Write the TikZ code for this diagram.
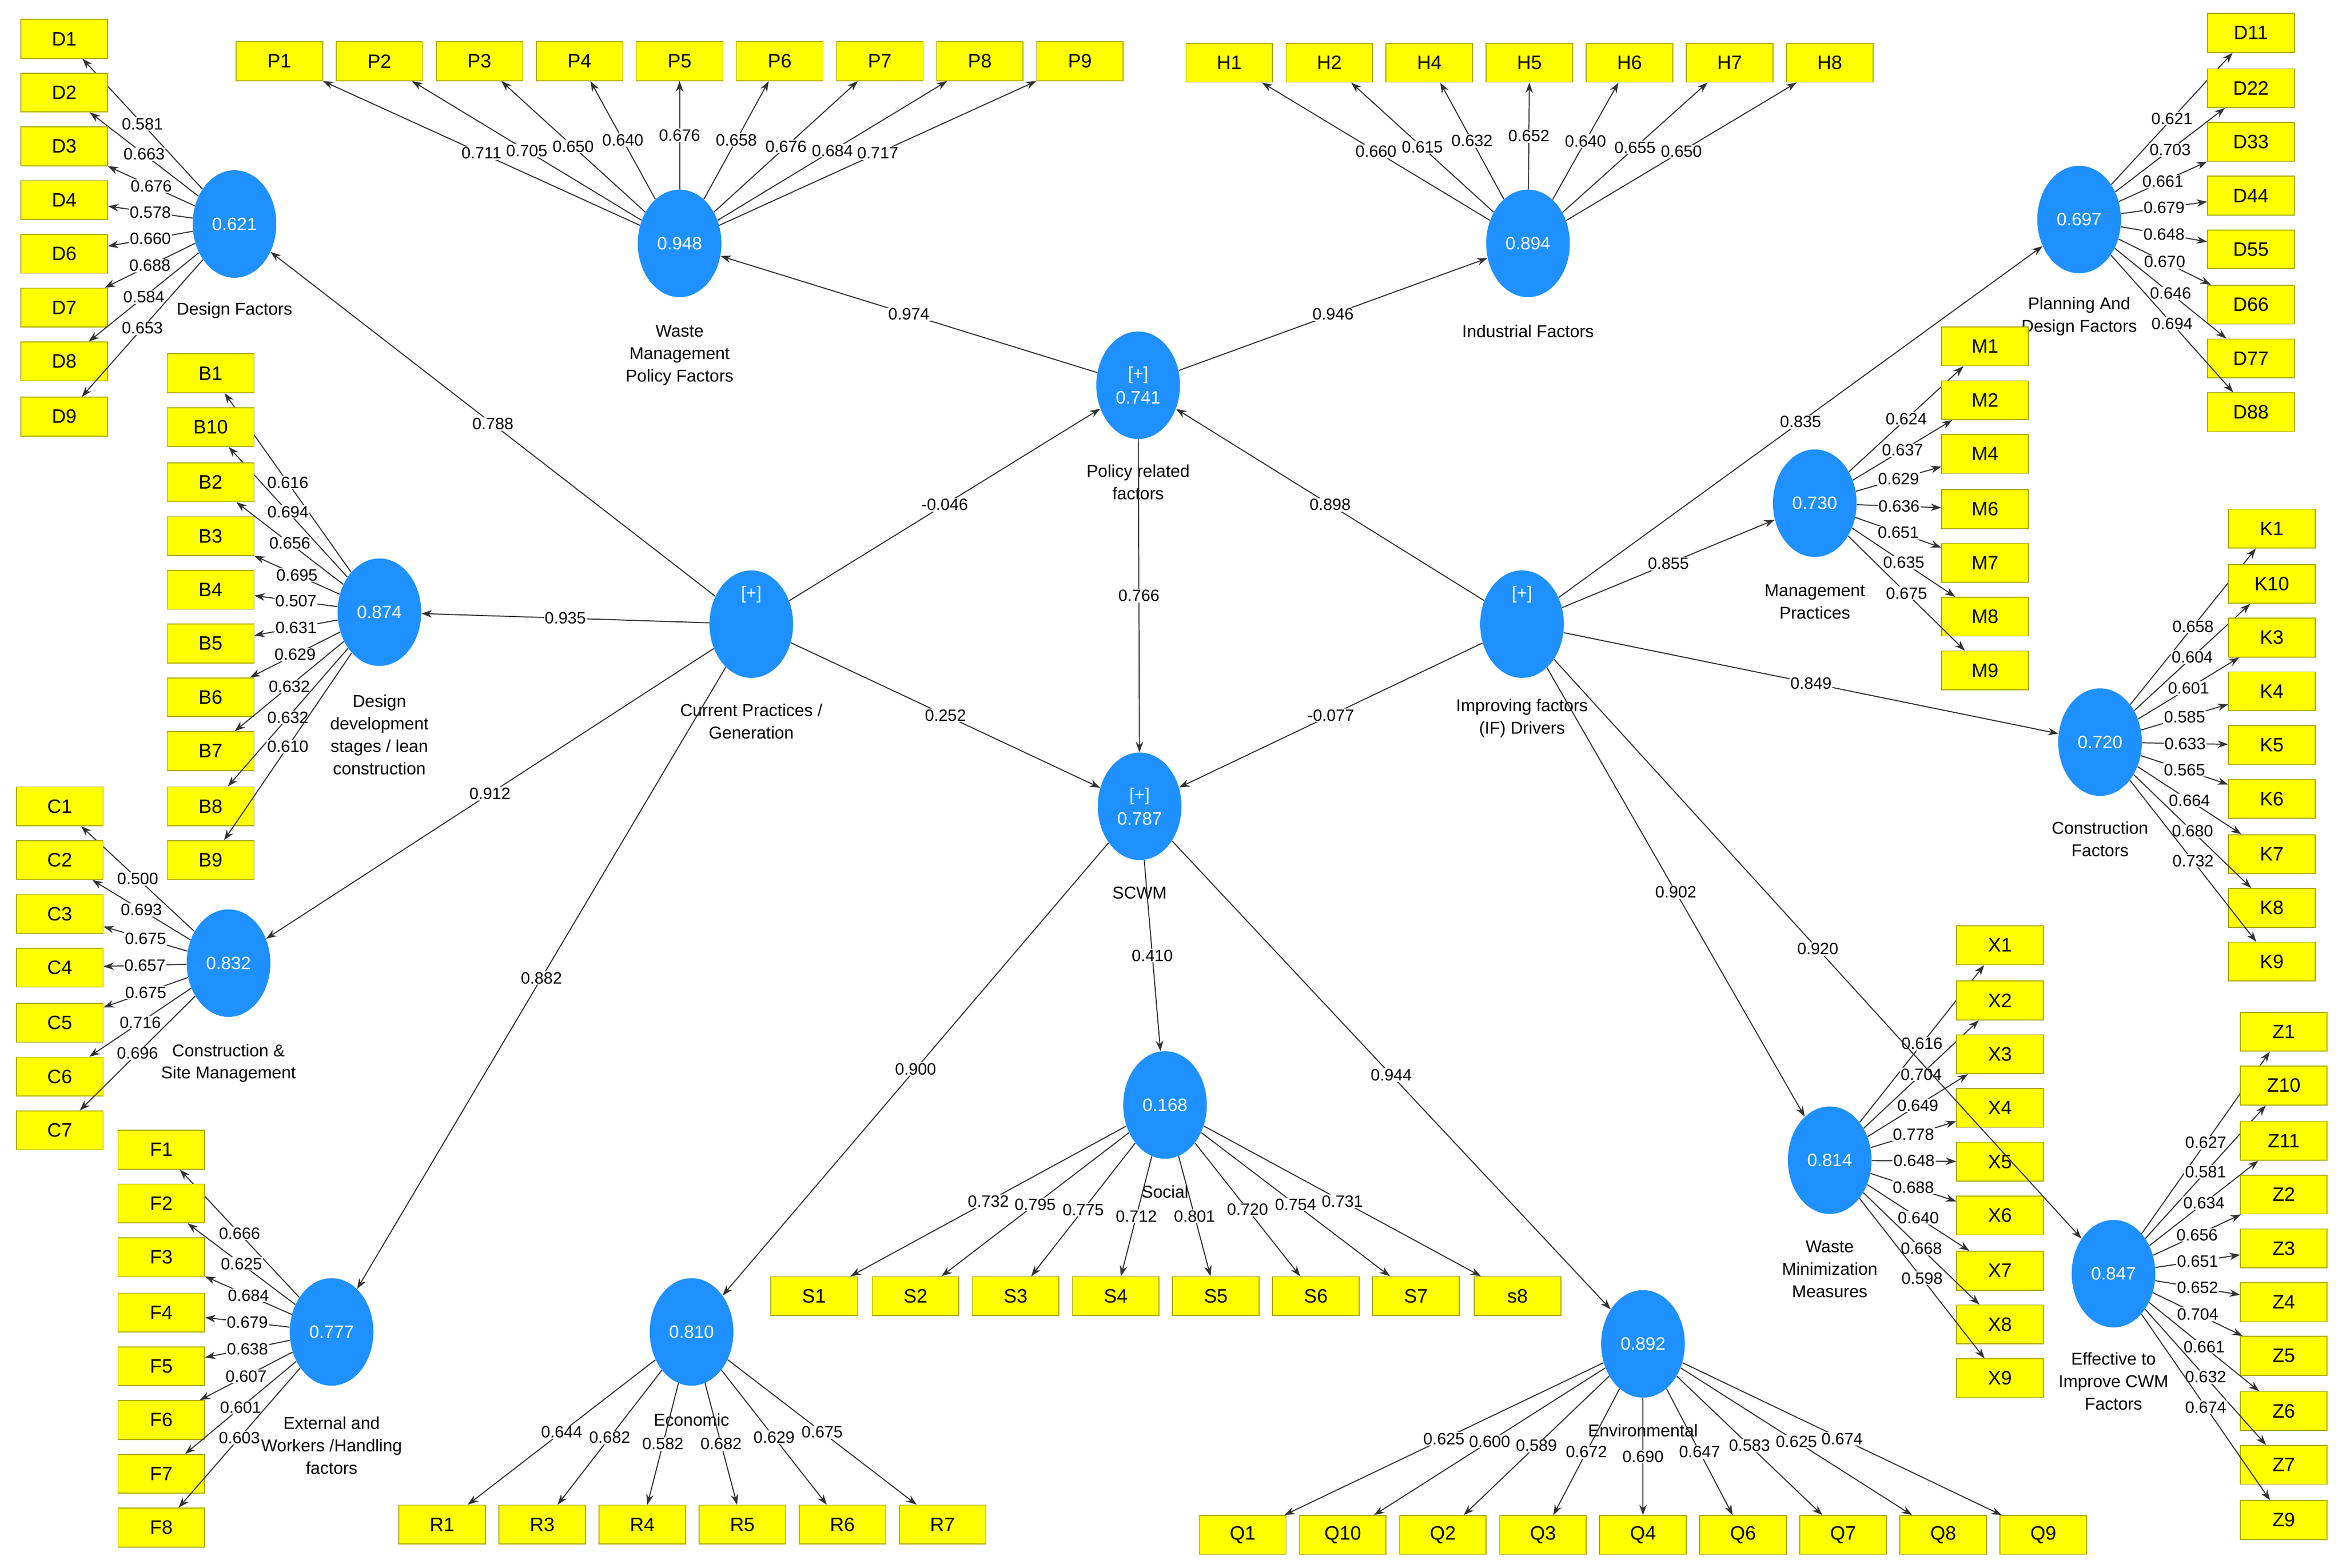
\documentclass[tikz,border=0pt]{standalone}
\usepackage{fontspec}
\setmainfont{Liberation Sans}
\usetikzlibrary{shapes.geometric,arrows.meta}
\definecolor{cblue}{RGB}{30,144,255}
\definecolor{cyel}{RGB}{255,255,0}
\definecolor{cyb}{RGB}{170,170,0}
\begin{document}
\begin{tikzpicture}[x=1pt,y=-1pt,
 lv/.style={ellipse,fill=cblue,minimum width=56pt,minimum height=72pt,inner sep=0pt,text=white,font=\fontsize{12}{14}\selectfont,align=center},
 lvcap/.style={align=center,font=\fontsize{11.5}{15}\selectfont},
 box/.style={rectangle,fill=cyel,draw=cyb,line width=0.6pt,minimum width=58pt,minimum height=26pt,inner sep=0pt,font=\fontsize{13}{15}\selectfont},
 arr/.style={draw=black!80,line width=0.7pt,-{Stealth[length=7pt,width=5pt]}},
 lab/.style={fill=white,inner sep=0.6pt,font=\fontsize{11}{13}\selectfont}]
\useasboundingbox (0,0) rectangle (1568,1050);
% latent variables
\node[lv] (DF) at (157,150) {0.621};
\node[lvcap] (DFl) at (157,208) {Design Factors};
\node[lv] (WM) at (455,163) {0.948};
\node[lvcap] (WMl) at (455,238) {Waste\\Management\\Policy Factors};
\node[lv] (IF) at (1023,163) {0.894};
\node[lvcap] (IFl) at (1023,222) {Industrial Factors};
\node[lv] (PD) at (1392,147) {0.697};
\node[lvcap] (PDl) at (1392,212) {Planning And\\Design Factors};
\node[lv] (PR) at (762,258) {[+]\\[2pt]0.741};
\node[lvcap] (PRl) at (762,323) {Policy related\\factors};
\node[lv] (DD) at (254,410) {0.874};
\node[lvcap] (DDl) at (254,492) {Design\\development\\stages / lean\\construction};
\node[lv] (CP) at (503,418) {[+]\\[28pt]};
\node[lvcap] (CPl) at (503,483) {Current Practices /\\Generation};
\node[lv] (IMP) at (1019,418) {[+]\\[28pt]};
\node[lvcap] (IMPl) at (1019,481) {Improving factors\\(IF) Drivers};
\node[lv] (MP) at (1215,337) {0.730};
\node[lvcap] (MPl) at (1215,403) {Management\\Practices};
\node[lv] (CF) at (1406,497) {0.720};
\node[lvcap] (CFl) at (1406,562) {Construction\\Factors};
\node[lv] (SC) at (763,540) {[+]\\[2pt]0.787};
\node[lvcap] (SCl) at (763,598) {SCWM};
\node[lv] (CS) at (153,645) {0.832};
\node[lvcap] (CSl) at (153,712) {Construction \&\\Site Management};
\node[lv] (SO) at (780,740) {0.168};
\node[lvcap] (SOl) at (780,798) {Social};
\node[lv] (WN) at (1225,777) {0.814};
\node[lvcap] (WNl) at (1225,850) {Waste\\Minimization\\Measures};
\node[lv] (EF) at (1415,853) {0.847};
\node[lvcap] (EFl) at (1415,925) {Effective to\\Improve CWM\\Factors};
\node[lv] (EX) at (222,892) {0.777};
\node[lvcap] (EXl) at (222,968) {External and\\Workers /Handling\\factors};
\node[lv] (EC) at (463,892) {0.810};
\node[lvcap] (ECl) at (463,951) {Economic};
\node[lv] (EN) at (1100,900) {0.892};
\node[lvcap] (ENl) at (1100,958) {Environmental};
% indicators
\foreach \n/\y/\v in {D1/26/0.581,D2/62/0.663,D3/98/0.676,D4/134/0.578,D6/170/0.660,D7/206/0.688,D8/242/0.584,D9/279/0.653}
 {\node[box] (\n) at (43,\y) {\n}; \draw[arr] (DF) -- node[lab]{\v} (\n);}
\foreach \n/\x/\v in {P1/187/0.711,P2/254/0.705,P3/321/0.650,P4/388/0.640,P5/455/0.676,P6/522/0.658,P7/589/0.676,P8/656/0.684,P9/723/0.717}
 {\node[box] (\n) at (\x,41) {\n}; \draw[arr] (WM) -- node[lab]{\v} (\n);}
\foreach \n/\x/\v in {H1/823/0.660,H2/890/0.615,H4/957/0.632,H5/1024/0.652,H6/1091/0.640,H7/1158/0.655,H8/1225/0.650}
 {\node[box] (\n) at (\x,42) {\n}; \draw[arr] (IF) -- node[lab]{\v} (\n);}
\foreach \n/\y/\v in {D11/22/0.621,D22/59/0.703,D33/95/0.661,D44/131/0.679,D55/167/0.648,D66/204/0.670,D77/240/0.646,D88/276/0.694}
 {\node[box] (\n) at (1507,\y) {\n}; \draw[arr] (PD) -- node[lab]{\v} (\n);}
\foreach \n/\y/\v in {B1/250/0.616,B10/286/0.694,B2/323/0.656,B3/359/0.695,B4/395/0.507,B5/431/0.631,B6/467/0.629,B7/503/0.632,B8/540/0.632,B9/576/0.610}
 {\node[box] (\n) at (141,\y) {\n}; \draw[arr] (DD) -- node[lab]{\v} (\n);}
\foreach \n/\y/\v in {M1/232/0.624,M2/268/0.637,M4/304/0.629,M6/341/0.636,M7/377/0.651,M8/413/0.635,M9/449/0.675}
 {\node[box] (\n) at (1329,\y) {\n}; \draw[arr] (MP) -- node[lab]{\v} (\n);}
\foreach \n/\y/\v in {K1/354/0.658,K10/391/0.604,K3/427/0.601,K4/463/0.585,K5/499/0.633,K6/535/0.565,K7/572/0.664,K8/608/0.680,K9/644/0.732}
 {\node[box] (\n) at (1521,\y) {\n}; \draw[arr] (CF) -- node[lab]{\v} (\n);}
\foreach \n/\y/\v in {C1/540/0.500,C2/576/0.693,C3/612/0.675,C4/648/0.657,C5/685/0.675,C6/721/0.716,C7/757/0.696}
 {\node[box] (\n) at (40,\y) {\n}; \draw[arr] (CS) -- node[lab]{\v} (\n);}
\foreach \n/\y/\v in {X1/633/0.616,X2/670/0.704,X3/706/0.649,X4/742/0.778,X5/778/0.648,X6/814/0.688,X7/851/0.640,X8/887/0.668,X9/923/0.598}
 {\node[box] (\n) at (1339,\y) {\n}; \draw[arr] (WN) -- node[lab]{\v} (\n);}
\foreach \n/\y/\v in {Z1/691/0.627,Z10/727/0.581,Z11/764/0.634,Z2/800/0.656,Z3/836/0.651,Z4/872/0.652,Z5/908/0.704,Z6/945/0.661,Z7/981/0.632,Z9/1018/0.674}
 {\node[box] (\n) at (1529,\y) {\n}; \draw[arr] (EF) -- node[lab]{\v} (\n);}
\foreach \n/\y/\v in {F1/770/0.666,F2/806/0.625,F3/842/0.684,F4/879/0.679,F5/915/0.638,F6/951/0.607,F7/987/0.601,F8/1023/0.603}
 {\node[box] (\n) at (108,\y) {\n}; \draw[arr] (EX) -- node[lab]{\v} (\n);}
\foreach \n/\x/\v in {S1/545/0.732,S2/613/0.795,S3/680/0.775,S4/747/0.712,S5/814/0.801,S6/881/0.720,S7/948/0.754,s8/1016/0.731}
 {\node[box] (\n) at (\x,868) {\n}; \draw[arr] (SO) -- node[lab]{\v} (\n);}
\foreach \n/\x/\v in {R1/296/0.644,R3/363/0.682,R4/430/0.582,R5/497/0.682,R6/564/0.629,R7/631/0.675}
 {\node[box] (\n) at (\x,1021) {\n}; \draw[arr] (EC) -- node[lab]{\v} (\n);}
\foreach \n/\x/\v in {Q1/832/0.625,Q10/899/0.600,Q2/966/0.589,Q3/1033/0.672,Q4/1100/0.690,Q6/1167/0.647,Q7/1234/0.583,Q8/1301/0.625,Q9/1368/0.674}
 {\node[box] (\n) at (\x,1028) {\n}; \draw[arr] (EN) -- node[lab]{\v} (\n);}
% structural paths
\draw[arr] (PR) -- node[lab]{0.974} (WM);
\draw[arr] (PR) -- node[lab]{0.946} (IF);
\draw[arr] (CP) -- node[lab]{0.788} (DF);
\draw[arr] (CP) -- node[lab]{-0.046} (PR);
\draw[arr] (CP) -- node[lab]{0.935} (DD);
\draw[arr] (CP) -- node[lab]{0.912} (CS);
\draw[arr] (CP) -- node[lab]{0.882} (EX);
\draw[arr] (CP) -- node[lab]{0.252} (SC);
\draw[arr] (PR) -- node[lab]{0.766} (SC);
\draw[arr] (IMP) -- node[lab]{0.898} (PR);
\draw[arr] (IMP) -- node[lab]{0.835} (PD);
\draw[arr] (IMP) -- node[lab]{0.855} (MP);
\draw[arr] (IMP) -- node[lab]{0.849} (CF);
\draw[arr] (IMP) -- node[lab]{-0.077} (SC);
\draw[arr] (IMP) -- node[lab]{0.902} (WN);
\draw[arr] (IMP) -- node[lab]{0.920} (EF);
\draw[arr] (SC) -- node[lab]{0.410} (SO);
\draw[arr] (SC) -- node[lab]{0.900} (EC);
\draw[arr] (SC) -- node[lab]{0.944} (EN);
\end{tikzpicture}
\end{document}
